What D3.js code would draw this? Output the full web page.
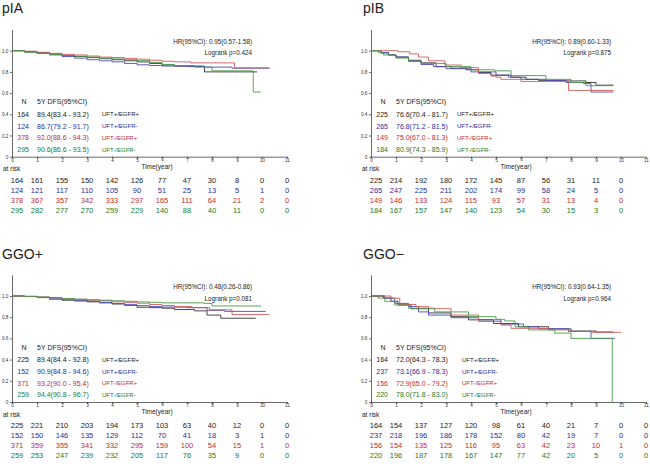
<!DOCTYPE html>
<html>
<head>
<meta charset="utf-8">
<script src="https://cdn.jsdelivr.net/npm/d3@7"></script>
<style>
  body { margin: 0; background: #fff; }
  svg { font-family: "Liberation Sans", Arial, sans-serif; }
</style>
</head>
<body>
<svg id="chart" width="650" height="464"></svg>
<script>
// group labels and colours (black, blue, red, green)
var groups = ["UFT+/EGFR+", "UFT+/EGFR-", "UFT-/EGFR+", "UFT-/EGFR-"];
var textColors = ["#1a1a1a", "#2b2b9c", "#c42a32", "#23792a"];
var lineColors = ["#333333", "#4a4ab8", "#d25a5a", "#4a9a4a"];

// curves: [time(year), survival]
var pIA_black = [[0,1],[0.5,0.99],[1,0.98],[1.5,0.97],[2,0.955],[2.5,0.945],[3,0.935],[3.5,0.925],[4,0.915],[4.5,0.905],[5,0.894],[5.5,0.88],[6,0.865],[6.5,0.855],[7.7,0.80],[9.8,0.80]];
var pIA_blue = [[0,1],[0.5,0.99],[1,0.975],[1.5,0.96],[2,0.945],[2.5,0.93],[3,0.915],[3.5,0.905],[4,0.895],[4.5,0.88],[5,0.867],[5.5,0.86],[6,0.855],[7,0.85],[7.7,0.845],[8.8,0.835],[10.3,0.835]];
var pIA_red = [[0,1],[0.5,0.995],[1,0.985],[1.5,0.975],[2,0.965],[2.5,0.96],[3,0.95],[3.5,0.94],[4,0.935],[4.5,0.928],[5,0.92],[5.5,0.91],[6,0.90],[6.5,0.895],[7.15,0.885],[8.9,0.838],[10.3,0.838]];
var pIA_green = [[0,1],[0.5,0.985],[1,0.975],[1.5,0.965],[2,0.955],[2.5,0.948],[3,0.94],[3.5,0.93],[4,0.922],[4.5,0.915],[5,0.906],[5.5,0.89],[6,0.87],[6.5,0.86],[7.3,0.845],[8.0,0.81],[9.65,0.61],[9.95,0.61]];

var pIB_black = [[0,1],[0.4,0.98],[0.7,0.96],[1,0.94],[1.5,0.91],[2,0.885],[2.6,0.85],[3.2,0.835],[3.8,0.82],[4.3,0.795],[4.8,0.77],[5.6,0.75],[6.2,0.73],[6.7,0.72],[7.75,0.715],[8.6,0.70],[9.0,0.675],[9.7,0.675]];
var pIB_blue = [[0,1],[0.4,0.98],[0.7,0.96],[1,0.94],[1.5,0.9],[2,0.87],[2.5,0.85],[3,0.83],[4,0.80],[5,0.768],[5.5,0.75],[6,0.73],[7,0.72],[7.8,0.70],[8.5,0.69],[8.8,0.61],[9.7,0.61]];
var pIB_red = [[0,1],[1.08,0.99],[1.55,0.97],[1.9,0.94],[2.3,0.905],[2.95,0.865],[3.6,0.84],[4.3,0.785],[4.8,0.76],[5,0.75],[5.2,0.73],[6.0,0.71],[7.9,0.625],[9.7,0.625]];
var pIB_green = [[0,1],[0.3,0.98],[0.5,0.96],[1,0.93],[1.5,0.90],[2,0.88],[3,0.85],[4,0.82],[4.95,0.81],[5.6,0.765],[7.0,0.73],[8.0,0.70],[8.6,0.67],[9.7,0.67]];

var ggoP_black = [[0,1],[0.5,0.995],[1,0.985],[1.5,0.97],[2,0.96],[2.5,0.953],[3,0.945],[3.5,0.935],[4,0.925],[4.5,0.912],[5,0.894],[5.5,0.89],[6,0.885],[6.5,0.872],[7.3,0.86],[7.8,0.82],[8.35,0.79],[9.75,0.79]];
var ggoP_blue = [[0,1],[0.5,0.995],[1,0.988],[1.5,0.98],[2,0.97],[2.5,0.96],[3,0.95],[3.5,0.94],[4,0.928],[4.5,0.918],[5,0.909],[5.5,0.90],[6,0.895],[7,0.89],[7.8,0.865],[8.5,0.855],[10.15,0.855]];
var ggoP_red = [[0,1],[0.5,0.997],[1,0.99],[1.5,0.985],[2,0.975],[2.5,0.968],[3,0.96],[3.5,0.955],[4,0.945],[4.5,0.94],[5,0.932],[5.5,0.92],[6,0.91],[6.5,0.90],[7.2,0.89],[7.9,0.87],[8.8,0.825],[10.3,0.825]];
var ggoP_green = [[0,1],[0.5,0.997],[1,0.99],[1.5,0.985],[2,0.975],[2.5,0.97],[3,0.965],[3.5,0.96],[4,0.955],[4.5,0.95],[5,0.944],[5.5,0.94],[6,0.935],[7.7,0.93],[8.0,0.906],[9.96,0.906]];

var ggoM_black = [[0,1],[0.5,0.98],[0.8,0.95],[1.08,0.915],[1.6,0.88],[2.3,0.84],[3.2,0.805],[3.9,0.775],[4.9,0.74],[5.9,0.71],[7.1,0.69],[8.0,0.67],[9.0,0.66],[9.7,0.66]];
var ggoM_blue = [[0,1],[0.55,0.98],[0.95,0.93],[1.5,0.90],[1.9,0.85],[2.3,0.82],[3.2,0.795],[4.3,0.775],[5.2,0.735],[6.1,0.71],[6.7,0.69],[7.9,0.665],[8.8,0.60],[9.75,0.60]];
var ggoM_red = [[0,1],[0.8,0.98],[1.15,0.92],[1.8,0.90],[2.3,0.88],[3.2,0.82],[4.3,0.76],[5.2,0.726],[5.6,0.695],[7.1,0.68],[8.0,0.665],[8.8,0.657],[10,0.657]];
var ggoM_green = [[0,1],[0.28,0.98],[0.55,0.95],[0.95,0.915],[1.5,0.885],[2.55,0.85],[3.9,0.805],[5.0,0.78],[5.35,0.765],[5.76,0.71],[6.3,0.68],[7.35,0.65],[8.0,0.60],[9.65,0]];

// numbers at risk, years 0..11
var pIA_risk = [[164,161,155,150,142,126,77,47,30,8,0,0],[124,121,117,110,105,90,51,25,13,5,1,0],[378,367,357,342,333,297,165,111,64,21,2,0],[295,282,277,270,259,229,140,88,40,11,0,0]];
var pIB_risk = [[225,214,192,180,172,145,87,56,31,11,0],[265,247,225,211,202,174,99,58,24,5,0],[149,146,133,124,115,93,57,31,13,4,0],[184,167,157,147,140,123,54,30,15,3,0]];
var ggoP_risk = [[225,221,210,203,194,173,103,63,40,12,0,0],[152,150,146,135,129,112,70,41,18,3,1,0],[371,359,355,341,332,295,159,100,54,15,1,0],[259,253,247,239,232,205,117,76,35,9,0,0]];
var ggoM_risk = [[164,154,137,127,120,98,61,40,21,7,0,0],[237,218,196,186,178,152,80,42,19,7,0,0],[156,154,135,125,116,95,63,42,23,10,1,0],[220,196,187,178,167,147,77,42,20,5,0,0]];

// legend: N and 5Y DFS
var pIA_n = [164, 124, 378, 295];
var pIA_dfs = ["89.4(83.4 - 93.2)", "86.7(79.2 - 91.7)", "92.0(88.6 - 94.3)", "90.6(86.6 - 93.5)"];
var pIB_n = [225, 265, 149, 184];
var pIB_dfs = ["76.6(70.4 - 81.7)", "76.8(71.2 - 81.5)", "75.0(67.0 - 81.3)", "80.9(74.3 - 85.9)"];
var ggoP_n = [225, 152, 371, 259];
var ggoP_dfs = ["89.4(84.4 - 92.8)", "90.9(84.8 - 94.6)", "93.2(90.0 - 95.4)", "94.4(90.8 - 96.7)"];
var ggoM_n = [164, 237, 156, 220];
var ggoM_dfs = ["72.0(64.3 - 78.3)", "73.1(66.9 - 78.3)", "72.9(65.0 - 79.2)", "78.0(71.8 - 83.0)"];

var titles = ["pIA", "pIB", "GGO+", "GGO\u2212"];
var hrTexts = ["HR(95%CI): 0.95(0.57-1.58)", "HR(95%CI): 0.89(0.60-1.33)", "HR(95%CI): 0.48(0.26-0.86)", "HR(95%CI): 0.93(0.64-1.35)"];
var pTexts = ["Logrank p=0.424", "Logrank p=0.875", "Logrank p=0.081", "Logrank p=0.964"];
var xTicks = [0,1,2,3,4,5,6,7,8,9,10,11];
var yTicks = [0, 0.2, 0.4, 0.6, 0.8, 1.0];

var panels = [
    {x0: 12,  y0: 50.7, curves: [pIA_black, pIA_blue, pIA_red, pIA_green], risk: pIA_risk, n: pIA_n, dfs: pIA_dfs, lab: 90},
    {x0: 371, y0: 50.7, curves: [pIB_black, pIB_blue, pIB_red, pIB_green], risk: pIB_risk, n: pIB_n, dfs: pIB_dfs, lab: 86},
    {x0: 12,  y0: 296,  curves: [ggoP_black, ggoP_blue, ggoP_red, ggoP_green], risk: ggoP_risk, n: ggoP_n, dfs: ggoP_dfs, lab: 90},
    {x0: 371, y0: 296,  curves: [ggoM_black, ggoM_blue, ggoM_red, ggoM_green], risk: ggoM_risk, n: ggoM_n, dfs: ggoM_dfs, lab: 91}
];

var svg = d3.select("#chart");

function drawPanel(p, i) {
    var x = d3.scaleLinear().domain([0, 11]).range([p.x0, p.x0 + 275]);
    var y = d3.scaleLinear().domain([0, 1]).range([p.y0 + 106, p.y0]);
    var g = svg.append("g");

    g.append("text").attr("x", i % 2 ? p.x0 - 8 : 2).attr("y", p.y0 - 37.5)
        .attr("font-size", 14).attr("fill", "#222").text(titles[i]);

    var yAxis = g.append("g").attr("transform", "translate(" + p.x0 + ",0)")
        .call(d3.axisLeft(y.copy().domain([0, 1.2]).range([p.y0 + 106, p.y0 - 21.2]))
            .tickValues(yTicks).tickSize(2).tickSizeOuter(0)
            .tickFormat(function (d) { return d === 0 ? "0" : d3.format(".1f")(d); }));
    var xAxis = g.append("g").attr("transform", "translate(0," + y(0) + ")")
        .call(d3.axisBottom(x).tickValues(xTicks).tickSize(2).tickSizeOuter(0).tickPadding(2));
    [yAxis, xAxis].forEach(function (a) {
        a.selectAll("path, line").attr("stroke", "#444").attr("stroke-width", 0.8);
        a.selectAll("text").attr("font-size", 4.7).attr("fill", "#333");
    });
    xAxis.selectAll("text").attr("dy", function (d) { return d === 6 ? "0em" : "0.3em"; });
    yAxis.selectAll("text").attr("dx", "0.3em");

    var line = d3.line().curve(d3.curveStepAfter)
        .x(function (d) { return x(d[0]); })
        .y(function (d) { return y(d[1]); });
    g.selectAll(".km").data(p.curves).enter().append("path")
        .attr("d", line).attr("fill", "none")
        .attr("stroke", function (d, k) { return lineColors[k]; })
        .attr("stroke-width", 0.9);

    // HR and logrank
    g.append("text").attr("x", p.x0 + 240).attr("y", p.y0 - 7.2).attr("text-anchor", "end")
        .attr("font-size", 6.3).attr("fill", "#222").text(hrTexts[i]);
    g.append("text").attr("x", p.x0 + 240).attr("y", p.y0 + 4.7).attr("text-anchor", "end")
        .attr("font-size", 6.3).attr("fill", "#222").text(pTexts[i]);

    // legend
    g.append("text").attr("x", p.x0 + 12).attr("y", p.y0 + 53.5).attr("text-anchor", "middle")
        .attr("font-size", 7).attr("fill", "#222").text("N");
    g.append("text").attr("x", p.x0 + 25).attr("y", p.y0 + 53.5)
        .attr("font-size", 7).attr("fill", "#222").text("5Y DFS(95%CI)");
    groups.forEach(function (name, k) {
        var yy = p.y0 + 66 + 11.8 * k;
        g.append("text").attr("x", p.x0 + 17).attr("y", yy).attr("text-anchor", "end")
            .attr("font-size", 7).attr("fill", textColors[k]).text(p.n[k]);
        g.append("text").attr("x", p.x0 + 25).attr("y", yy)
            .attr("font-size", 7).attr("fill", textColors[k]).text(p.dfs[k]);
        g.append("text").attr("x", p.x0 + p.lab).attr("y", yy - 0.3)
            .attr("font-size", 6).attr("fill", textColors[k]).text(name);
    });

    g.append("text").attr("x", p.x0 + 145).attr("y", y(0) + 12).attr("text-anchor", "middle")
        .attr("font-size", 6.5).attr("fill", "#222").text("Time(year)");
    g.append("text").attr("x", p.x0 - 9).attr("y", y(0) + 14.5)
        .attr("font-size", 6.5).attr("fill", "#222").text("at risk");

    // numbers at risk
    p.risk.forEach(function (row, k) {
        g.selectAll(".r" + k).data(row).enter().append("text")
            .attr("x", function (d, t) { return x(t) + (t === 0 ? 5 : 0); })
            .attr("y", y(0) + 26 + 10 * k)
            .attr("text-anchor", "middle").attr("font-size", 7.5)
            .attr("fill", textColors[k]).text(function (d) { return d; });
    });
}

panels.forEach(drawPanel);
</script>
</body>
</html>
